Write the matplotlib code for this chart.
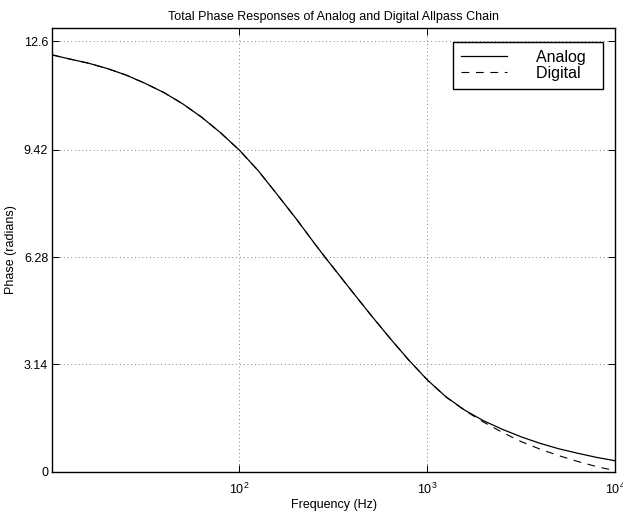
import numpy as np
import matplotlib
matplotlib.use("Agg")
import matplotlib.pyplot as plt

plt.rcParams['font.family'] = ['Liberation Sans', 'DejaVu Sans']
plt.rcParams['mathtext.fontset'] = 'custom'
plt.rcParams['mathtext.rm'] = 'Liberation Sans'
plt.rcParams['mathtext.it'] = 'Liberation Sans:italic'

# Data (frequency in Hz, phase in radians)
freq = [10.17, 12.6, 15.8, 20.0, 25.1, 31.6, 39.8, 50.1, 63.1, 79.4, 100,
        126, 158, 200, 251, 286, 316, 398, 501, 631, 794, 1000, 1259, 1585,
        1995, 2512, 3162, 3981, 5012, 6310, 7943, 10000]
phase_analog = [12.20, 12.08, 11.96, 11.80, 11.61, 11.37, 11.10, 10.77,
                10.38, 9.93, 9.42, 8.82, 8.14, 7.42, 6.69, 6.28, 5.98, 5.28,
                4.59, 3.92, 3.28, 2.69, 2.19, 1.80, 1.49, 1.24, 1.02, 0.83,
                0.67, 0.54, 0.42, 0.32]
phase_digital = [12.20, 12.08, 11.96, 11.80, 11.61, 11.37, 11.10, 10.77,
                 10.38, 9.93, 9.42, 8.82, 8.14, 7.42, 6.69, 6.28, 5.98, 5.28,
                 4.59, 3.92, 3.28, 2.69, 2.19, 1.79, 1.45, 1.15, 0.88, 0.66,
                 0.47, 0.30, 0.15, 0.03]
ytick_vals = [0, 3.14, 6.28, 9.42, 12.6]
ytick_labels = ['0', '3.14', '6.28', '9.42', '12.6']
xtick_vals = [100, 1000, 10000]

fig = plt.figure(figsize=(6.23, 5.12), dpi=100)
ax = fig.add_axes([52.3/623, 1 - 471.7/512, (615.3-52.3)/623, (471.7-28)/512])

ax.semilogx(freq, phase_analog, color='black', lw=0.9, label='Analog  ')
ax.semilogx(freq, phase_digital, color='black', lw=0.8,
            ls=(0, (7, 6)), label='Digital  ')

ax.set_xlim(10.15, 10000)
ax.set_ylim(0, 12.99)
ax.set_yticks(ytick_vals)
ax.set_yticklabels(ytick_labels)
ax.set_xticks(xtick_vals)
ax.minorticks_off()
ax.tick_params(direction='in', length=5, width=0.7, top=True, right=True,
               labelsize=9, colors='black')
ax.tick_params(axis='y', pad=3)
ax.tick_params(axis='x', pad=7)
for s in ax.spines.values():
    s.set_linewidth(1.0)
ax.grid(True, which='major', color='0.35', ls=(0, (1, 3.5)), lw=0.6)

ax.set_title('Total Phase Responses of Analog and Digital Allpass Chain',
             fontsize=9, pad=6)
ax.set_xlabel('Frequency (Hz)', fontsize=9, labelpad=2)
ax.set_ylabel('Phase (radians)', fontsize=9, labelpad=5)

leg = ax.legend(loc='upper right', bbox_to_anchor=(0.9776, 0.969),
                borderaxespad=0, fancybox=False, edgecolor='black',
                framealpha=1, fontsize=11.5, handlelength=2.9,
                handletextpad=1.8, labelspacing=0.05, borderpad=0.5)
leg.get_frame().set_linewidth(1.0)

fig.savefig('out.png', dpi=100)
